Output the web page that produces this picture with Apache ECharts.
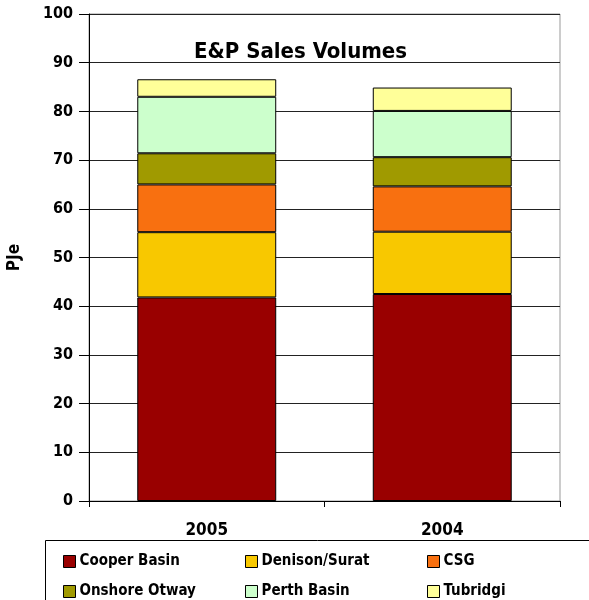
<!DOCTYPE html>
<html>
<head>
<meta charset="utf-8">
<script src="https://cdn.jsdelivr.net/npm/echarts@6/dist/echarts.min.js"></script>
<style>
  html, body { margin: 0; padding: 0; background: #fff; }
  #main { width: 589px; height: 600px; }
</style>
</head>
<body>
<div id="main"></div>
<script>
// data
const years = ['2005', '2004'];
const seriesNames = ['Cooper Basin', 'Denison/Surat', 'CSG', 'Onshore Otway', 'Perth Basin', 'Tubridgi'];
const cooper = [41.8, 42.5];
const denison = [13.4, 12.8];
const csg = [9.8, 9.3];
const otway = [6.4, 6.0];
const perth = [11.6, 9.5];
const tubridgi = [3.6, 4.8];
const colors = ['#990000', '#F8C800', '#F87010', '#A09A00', '#CCFFCC', '#FFFF99'];
const yTicks = [0, 10, 20, 30, 40, 50, 60, 70, 80, 90, 100];

const values = [cooper, denison, csg, otway, perth, tubridgi];
const font = 'DejaVu Sans Condensed';

const chart = echarts.init(document.getElementById('main'));

// six single-item legends laid out as a 3x2 grid
const legends = seriesNames.map((name, i) => ({
  data: [name],
  left: 63 + (i % 3) * 182,
  top: 554 + Math.floor(i / 3) * 30,
  itemWidth: 12,
  itemHeight: 12,
  itemGap: 6,
  icon: 'rect',
  selectedMode: false,
  padding: 0,
  itemStyle: { borderColor: '#000', borderWidth: 1 },
  textStyle: { fontFamily: font, fontWeight: 'bold', fontSize: 15, color: '#000', padding: [0, 0, 0, -1] }
}));

chart.setOption({
  animation: false,
  title: {
    text: 'E&P Sales Volumes',
    left: 194,
    top: 41,
    padding: 0,
    textStyle: { fontFamily: font, fontWeight: 'bold', fontSize: 22, color: '#000' }
  },
  legend: legends,
  graphic: [{
    type: 'rect',
    shape: { x: 45.5, y: 540.5, width: 600, height: 100 },
    style: { fill: 'none', stroke: '#000', lineWidth: 1 },
    silent: true
  }],
  grid: {
    left: 89, right: 29, top: 14, bottom: 99,
    outerBoundsMode: 'none',
    show: true, borderColor: '#999', borderWidth: 1
  },
  xAxis: {
    type: 'category',
    data: years,
    axisLine: { lineStyle: { color: '#000' } },
    axisTick: { show: true, length: 6, lineStyle: { color: '#000' } },
    axisLabel: { fontFamily: font, fontWeight: 'bold', fontSize: 17, color: '#000', margin: 21 }
  },
  yAxis: {
    type: 'value',
    min: yTicks[0],
    max: yTicks[yTicks.length - 1],
    interval: 10,
    name: 'PJe',
    nameLocation: 'middle',
    nameRotate: 90,
    nameGap: 66,
    nameTextStyle: { fontFamily: font, fontWeight: 'bold', fontSize: 17, color: '#000' },
    axisLine: { show: true, lineStyle: { color: '#000' } },
    axisTick: { show: true, length: 10, lineStyle: { color: '#000' } },
    axisLabel: { fontFamily: font, fontWeight: 'bold', fontSize: 16, color: '#000', margin: 16 },
    splitLine: { lineStyle: { color: '#222', width: 1 } }
  },
  series: seriesNames.map((name, i) => ({
    name: name,
    type: 'bar',
    stack: 'total',
    barCategoryGap: '41%',
    data: values[i],
    itemStyle: { color: colors[i], borderColor: '#000', borderWidth: 1 }
  }))
});
</script>
</body>
</html>
